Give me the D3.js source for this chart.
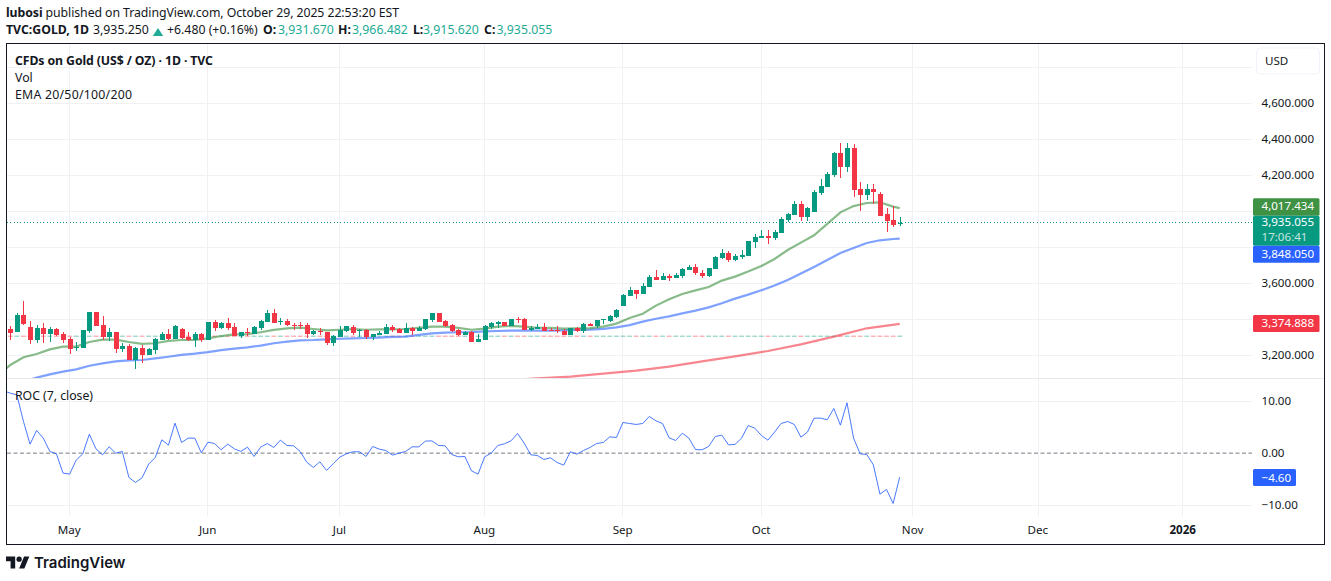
<!DOCTYPE html>
<html><head><meta charset="utf-8">
<script src="https://cdn.jsdelivr.net/npm/d3@7/dist/d3.min.js"></script>
<style>
html,body{margin:0;padding:0;background:#fff;overflow:hidden}
svg{display:block}
text{font-family:"Noto Sans",sans-serif;fill:#131722}
</style></head><body><div id="c"></div>
<script>
const opens=[3346,3331,3424,3357,3286,3351,3318,3346,3318,3290,3244,3240,3335,3441,3368,3301,3329,3235,3251,3173,3240,3201,3229,3285,3318,3290,3346,3301,3285,3318,3285,3385,3351,3379,3357,3307,3329,3318,3351,3385,3435,3385,3390,3370,3370,3368,3317,3335,3330,3269,3302,3335,3357,3341,3341,3302,3313,3319,3357,3346,3324,3352,3335,3346,3396,3435,3391,3368,3341,3313,3330,3274,3285,3357,3374,3385,3363,3400,3402,3341,3346,3357,3341,3339,3335,3313,3352,3335,3374,3363,3398,3391,3413,3474,3530,3563,3541,3580,3635,3619,3641,3630,3641,3674,3691,3657,3641,3680,3741,3769,3730,3748,3752,3830,3854,3863,3852,3880,3952,3980,4041,3968,3996,4102,4135,4202,4324,4246,4352,4124,4091,4124,4096,3985,3952,3931.67];
const highs=[3362,3433,3502,3390,3368,3379,3357,3351,3329,3299,3273,3340,3441,3441,3418,3351,3329,3268,3262,3246,3257,3240,3296,3329,3346,3368,3351,3329,3329,3324,3385,3396,3385,3407,3379,3329,3351,3362,3396,3452,3457,3407,3402,3379,3386,3378,3341,3352,3330,3313,3363,3363,3368,3346,3346,3317,3335,3374,3368,3352,3380,3357,3363,3402,3435,3435,3396,3374,3346,3335,3335,3319,3368,3385,3391,3385,3402,3413,3407,3363,3374,3380,3352,3363,3346,3352,3357,3380,3380,3396,3402,3424,3457,3541,3580,3563,3602,3646,3674,3657,3652,3657,3685,3702,3707,3674,3685,3752,3791,3780,3763,3785,3835,3874,3896,3896,3896,3968,3991,4057,4057,4024,4118,4180,4218,4330,4380,4380,4374,4163,4152,4152,4107,4018,4029,3966.482];
const lows=[3285,3331,3368,3262,3266,3268,3273,3309,3270,3207,3225,3240,3324,3362,3285,3279,3212,3218,3173,3123,3157,3201,3207,3285,3285,3290,3290,3279,3246,3273,3285,3335,3346,3340,3307,3296,3307,3318,3340,3385,3379,3368,3362,3340,3347,3296,3313,3313,3257,3252,3302,3330,3313,3302,3291,3285,3313,3319,3330,3324,3324,3313,3335,3341,3385,3385,3357,3330,3307,3313,3274,3274,3285,3346,3352,3363,3363,3380,3341,3335,3346,3335,3335,3324,3313,3313,3330,3324,3363,3352,3374,3385,3407,3474,3530,3513,3541,3580,3619,3619,3613,3630,3630,3674,3646,3630,3635,3680,3735,3719,3724,3735,3752,3796,3854,3819,3841,3880,3941,3980,3946,3946,3996,4091,4135,4191,4185,4218,4080,4002,4063,4041,3974,3885,3913,3915.62];
const closes=[3324,3424,3374,3286,3351,3318,3346,3312,3285,3235,3248,3340,3441,3362,3301,3329,3235,3251,3173,3240,3201,3235,3290,3318,3290,3362,3296,3285,3318,3285,3385,3351,3379,3351,3307,3329,3325,3357,3390,3435,3379,3389,3368,3366,3364,3319,3335,3328,3267,3307,3341,3363,3324,3343,3302,3317,3324,3357,3341,3324,3352,3335,3352,3402,3435,3385,3363,3335,3313,3330,3274,3291,3363,3380,3385,3363,3402,3396,3341,3352,3357,3335,3337,3335,3313,3352,3335,3374,3363,3396,3402,3419,3452,3535,3563,3541,3585,3635,3619,3641,3630,3646,3680,3691,3657,3641,3685,3746,3769,3730,3752,3757,3835,3857,3863,3854,3885,3957,3985,4041,3968,4018,4107,4141,4207,4324,4246,4352,4118,4091,4124,4107,3974,3946,3924,3935.055];
const emaIdx=[-1,...d3.range(0,135,2),135];
const ema20=[3115,3146,3189,3207,3233,3248,3248,3274,3287,3287,3274,3263,3267,3280,3285,3285,3294,3307,3316,3318,3328,3341,3350,3354,3346,3339,3342,3346,3342,3344,3344,3346,3352,3359,3359,3352,3342,3348,3359,3363,3359,3353,3352,3348,3350,3351,3359,3376,3407,3431,3476,3511,3541,3561,3579,3615,3637,3665,3696,3735,3785,3826,3867,3930,3994,4029,4046,4050,4026,4017.434];
const ema50=[3026,3040,3054,3076,3094,3109,3122,3142,3155,3166,3172,3174,3183,3192,3202,3209,3218,3229,3237,3244,3254,3267,3276,3283,3285,3289,3292,3294,3296,3298,3302,3304,3313,3322,3326,3328,3329,3333,3335,3337,3337,3337,3337,3339,3341,3343,3347,3355,3368,3387,3403,3416,3433,3448,3466,3489,3515,3537,3561,3588,3618,3654,3691,3729,3768,3796,3824,3839,3846,3848.05];
const ema200Idx=[75,80,85,90,95,100,105,110,115,120,125,130,135];
const ema200=[3060,3072,3081,3098,3115,3137,3166,3194,3224,3261,3304,3350,3374.888];
const rocValues=[11.95,11.5,11.18,6.07,1.73,4.35,2.88,0.32,-0.13,-3.83,-4.03,-1.34,-0.13,3.64,0.83,-0.32,1.21,0,0.32,-4.66,-5.62,-4.73,-2.11,-0.83,2.56,1.53,5.75,2.04,2.88,2.88,0.06,2.11,1.85,0.64,1.73,0.83,0.32,1.15,-0.64,1.15,1.85,1.09,2.49,1.47,1.41,0.32,-1.73,-2.75,-1.66,-3.32,-2.04,-0.77,-0.13,0.26,0.26,-0.64,1.28,0.77,0.51,-0.38,0,0.32,1.21,1.21,2.3,2.36,1.47,1.41,-0.26,-0.7,-0.64,-3.39,-4.03,-0.7,0,1.47,1.79,2.36,3.77,1.92,-0.32,-0.45,-1.21,-0.89,-1.79,-2.3,0.26,-0.19,0.51,1.09,1.85,2.04,3.13,3,5.88,5.69,5.5,5.69,7.03,6.2,5.69,2.94,2.43,3.83,2.88,0.7,0.64,1.28,3.19,3.45,1.6,1.66,2.88,5.3,4.79,3.39,2.49,4.03,5.69,6.07,5.5,3.07,4.03,6.71,6.71,6.39,8.56,5.37,9.65,2.88,-0.13,-0.26,-2.24,-7.86,-6.96,-9.65,-4.6];
const baselineLevel=3306;
const monthTicks=[9,30,50,72,93,114,137,156,178];
const monthLabels=["May","Jun","Jul","Aug","Sep","Oct","Nov","Dec","2026"];
const priceTicks=[3200,3400,3600,3800,4000,4200,4400,4600,4800];
const priceLabelTicks=[3200,3400,3600,4200,4400,4600];
const rocTicks=[-10,10];
const rocLabelTicks=[-10,0,10];
const lastClose=3935.055,lastEma20=4017.434,lastEma50=3848.05,lastEma200=3374.888,lastRoc=-4.6;

const GREEN="#089981",RED="#f23645",BLUE="#2962ff",EMAG="#388e3c";
const W=1331,H=581;
const svg=d3.select("#c").append("svg").attr("width",W).attr("height",H).attr("viewBox",`0 0 ${W} ${H}`);
const x=d3.scaleLinear().domain([0,135]).range([10.3,899.7]);
const y=d3.scaleLinear().domain([3200,4600]).range([355.3,103.3]);
const ry=d3.scaleLinear().domain([-10,10]).range([505.3,401]);
const L=7,R=1252;
const defs=svg.append("defs");
defs.append("clipPath").attr("id","pricePane").append("rect").attr("x",L).attr("y",44).attr("width",R-L).attr("height",334);
defs.append("clipPath").attr("id","rocPane").append("rect").attr("x",L).attr("y",379).attr("width",R-L).attr("height",137);

// header
const fmt3=d3.format(",.3f");
svg.append("text").attr("x",6).attr("y",16.5).attr("font-size",12.3).attr("textLength",393).attr("lengthAdjust","spacing")
 .html('<tspan font-weight="700">lubosi</tspan> published on TradingView.com, October 29, 2025 22:53:20 EST');
const head=svg.append("text").attr("y",34).attr("font-size",12.3);
const T=(s,px,c,b)=>{const t=head.append("tspan").attr("x",px).text(s);if(c)t.style("fill",c);if(b)t.attr("font-weight",700);};
const up="#22ab94";
T("TVC:GOLD, 1D",6,null,true);T("3,935.250",93);T("+6.480 (+0.16%)",167);
T("O:",263,null,true);T("3,931.670",278,up);T("H:",338,null,true);T("3,966.482",352,up);T("L:",413,null,true);T("3,915.620",423,up);T("C:",484,null,true);T("3,935.055",496.5,up);
svg.append("path").attr("d","M158 28L163.2 36H152.8Z").attr("fill",up);

// grid
const grid=svg.append("g").attr("stroke","#f1f1f4").attr("shape-rendering","crispEdges");
grid.selectAll("line.v").data(monthTicks).join("line").attr("x1",d=>x(d)).attr("x2",d=>x(d)).attr("y1",44).attr("y2",516);
grid.selectAll("line.h").data(priceTicks).join("line").attr("class","h").attr("x1",L).attr("x2",R).attr("y1",d=>y(d)).attr("y2",d=>y(d));
grid.selectAll("line.r").data(rocTicks).join("line").attr("class","r").attr("x1",L).attr("x2",R).attr("y1",d=>ry(d)).attr("y2",d=>ry(d));

// pane separator
svg.append("line").attr("x1",L).attr("x2",1324).attr("y1",378.5).attr("y2",378.5).attr("stroke","#e8e8ec");

// price pane
const pane=svg.append("g").attr("clip-path","url(#pricePane)");
pane.selectAll("rect.base").data(closes).join("rect").attr("class","base")
 .attr("x",(d,i)=>x(i)-2.4).attr("width",4.8).attr("y",y(baselineLevel)-0.6).attr("height",1.2)
 .attr("fill",(d,i)=>d>=opens[i]?GREEN:RED).attr("opacity",.45);
const emaLine=d3.line().x(d=>x(d[0])).y(d=>y(d[1]));
const draw=(idx,vals,col)=>pane.append("path").attr("d",emaLine(idx.map((k,n)=>[k,vals[n]]))).attr("fill","none")
 .attr("stroke",col).attr("stroke-width",2.2).attr("stroke-opacity",.6);
draw(ema200Idx,ema200,RED);
draw(emaIdx,ema50,BLUE);
draw(emaIdx,ema20,EMAG);
pane.append("line").attr("x1",L).attr("x2",R).attr("y1",Math.floor(y(lastClose))+.5).attr("y2",Math.floor(y(lastClose))+.5)
 .attr("stroke",GREEN).attr("stroke-dasharray","1 2.3").attr("shape-rendering","crispEdges");
const c=pane.selectAll("g.c").data(opens).join("g").attr("class","c").attr("shape-rendering","crispEdges")
 .attr("fill",(d,i)=>closes[i]>=d?GREEN:RED);
c.append("rect").attr("x",(d,i)=>Math.round(x(i))-0.5).attr("width",1)
 .attr("y",(d,i)=>y(highs[i])).attr("height",(d,i)=>y(lows[i])-y(highs[i]));
c.append("rect").attr("x",(d,i)=>Math.round(x(i))-2.5).attr("width",5)
 .attr("y",(d,i)=>y(Math.max(d,closes[i]))).attr("height",(d,i)=>Math.max(1,Math.abs(y(d)-y(closes[i]))));

// roc pane
svg.append("line").attr("x1",L).attr("x2",R).attr("y1",ry(0)).attr("y2",ry(0)).attr("stroke","#787b86").attr("stroke-dasharray","4 2.5");
svg.append("g").attr("clip-path","url(#rocPane)").append("path")
 .attr("d",d3.line().x((d,i)=>x(i-1)).y(d=>ry(d))(rocValues)).attr("fill","none").attr("stroke",BLUE).attr("stroke-width",1).attr("stroke-opacity",.85);

// legends
const leg=(t,ty,b,len)=>{const e=svg.append("text").attr("x",15).attr("y",ty).attr("font-size",12.3).attr("font-weight",b?700:400).text(t);if(len)e.attr("textLength",len).attr("lengthAdjust","spacing");};
leg("CFDs on Gold (US$ / OZ) · 1D · TVC",64.5,true,198);leg("Vol",81.5);leg("EMA 20/50/100/200",98.5,false,117);leg("ROC (7, close)",399.5,false,78);

// price axis
const pa=svg.append("g").attr("transform","translate(1261.5,0)")
 .call(d3.axisRight(y).tickValues(priceLabelTicks).tickFormat(fmt3).tickSize(0).tickPadding(0));
const ra=svg.append("g").attr("transform","translate(1261.5,0)")
 .call(d3.axisRight(ry).tickValues(rocLabelTicks).tickFormat(d3.format(".2f")).tickSize(0).tickPadding(0));
const ta=svg.append("g").attr("transform","translate(-0.8,518)")
 .call(d3.axisBottom(x).tickValues(monthTicks).tickFormat((d,i)=>monthLabels[i]).tickSize(0).tickPadding(8));
[pa,ra,ta].forEach(a=>{a.select(".domain").remove();a.selectAll("text").attr("font-family",'"Noto Sans",sans-serif').attr("font-size",11.6).style("fill","#131722");});
pa.selectAll("text").attr("dy","0.26em");ra.selectAll("text").attr("dy","0.26em");
ta.selectAll("text").attr("font-weight",(d,i)=>monthLabels[i]==="2026"?700:400);

// scale badges
const badge=(y0,h,col,lines,w)=>{
 svg.append("rect").attr("x",1253).attr("y",y0).attr("width",w||66.5).attr("height",h).attr("fill",col).attr("rx",1.5);
 lines.forEach(l=>svg.append("text").attr("x",1261.5).attr("y",l[1]).attr("font-size",11.6).style("fill","#fff").attr("opacity",l[2]||1).text(l[0]));
};
badge(315,17,RED,[[fmt3(lastEma200),326.5]]);
badge(198.3,17.4,"#3f9143",[[fmt3(lastEma20),209.6]]);
badge(215.7,30,GREEN,[[fmt3(lastClose),226.3],["17:06:41",241.3,.75]]);
badge(245.7,17,BLUE,[[fmt3(lastEma50),258]]);
badge(469,17,BLUE,[[d3.format(".2f")(lastRoc),482]],43);

// USD
svg.append("rect").attr("x",1256.5).attr("y",48).attr("width",63).attr("height",26).attr("rx",4).attr("fill","#fff").attr("stroke","#f0f3fa");
svg.append("text").attr("x",1265).attr("y",65).attr("font-size",11.6).text("USD");

// frame
svg.append("rect").attr("x",6.5).attr("y",43.5).attr("width",1318).attr("height",501).attr("fill","none").attr("stroke","#131722");

// logo
const lg=svg.append("g").attr("transform","translate(6,554) scale(.656)").attr("fill","#131722");
lg.append("path").attr("d","M14 22H7V11H0V4h14v18zM28 22h-8l7.5-18h8L28 22z");
lg.append("circle").attr("cx",20).attr("cy",8).attr("r",4);
svg.append("text").attr("x",34).attr("y",567.7).style("font-family","Inter,sans-serif").attr("font-size",15).attr("font-weight",600).text("TradingView");
</script></body></html>
